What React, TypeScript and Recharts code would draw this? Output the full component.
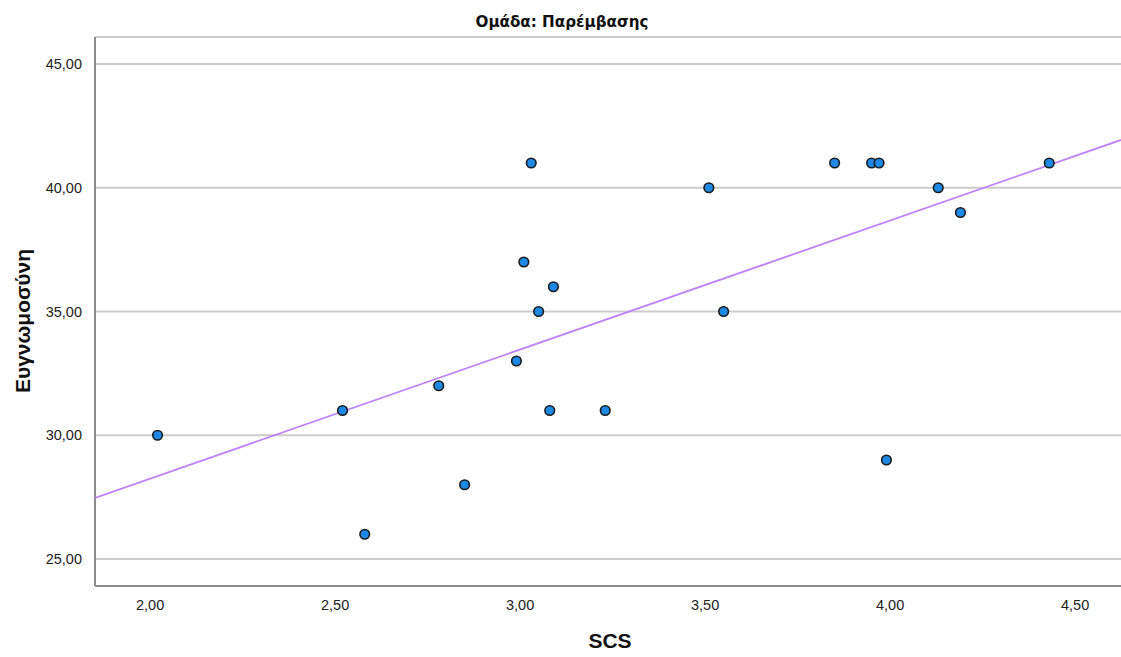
import React from 'react';
import { ScatterChart, Scatter, XAxis, YAxis, CartesianGrid, Label } from 'recharts';

const scsValues = [2.02, 2.52, 2.58, 2.78, 2.85, 2.99, 3.01, 3.03, 3.05, 3.08, 3.09, 3.23, 3.51, 3.55, 3.85, 3.95, 3.97, 3.99, 4.13, 4.19, 4.43];
const gratitudeValues = [30, 31, 26, 32, 28, 33, 37, 41, 35, 31, 36, 31, 40, 35, 41, 41, 41, 29, 40, 39, 41];
const fitX = [1.851, 4.624];
const fitY = [27.47, 41.93];
const xTicks = [2.0, 2.5, 3.0, 3.5, 4.0, 4.5];
const yTicks = [25, 30, 35, 40, 45];

const points = scsValues.map((x, i) => ({ x, y: gratitudeValues[i] }));
const fitLine = fitX.map((x, i) => ({ x, y: fitY[i] }));

const fmt = (v: number) => v.toFixed(2).replace('.', ',');
const FONT = '"Liberation Sans", Arial, sans-serif';

const Dot = (props: any) => {
  const { cx, cy } = props;
  if (cx == null || cy == null) return null;
  return <circle cx={cx} cy={cy} r={4.8} fill="#1E88E5" stroke="#1a1a1a" strokeWidth={1.6} />;
};

export default function App() {
  return (
    <div style={{ position: 'absolute', left: 0, top: 0, width: 1121, height: 657, background: '#fff' }}>
      <ScatterChart width={1121} height={657} margin={{ top: 37, right: 0, bottom: 0, left: 0 }}>
        <text
          x={562}
          y={27}
          textAnchor="middle"
          fontFamily="DejaVu Sans, Verdana, sans-serif"
          fontWeight="bold"
          fontSize={15}
          fill="#111"
          textLength={173}
          lengthAdjust="spacingAndGlyphs"
        >
          Ομάδα: Παρέμβασης
        </text>
        <CartesianGrid vertical={false} stroke="#cccccc" strokeWidth={2} />
        <XAxis
          type="number"
          dataKey="x"
          domain={[1.851, 4.624]}
          ticks={xTicks}
          tickFormatter={fmt}
          allowDataOverflow
          height={71}
          axisLine={{ stroke: '#8c8c8c', strokeWidth: 2 }}
          tickLine={false}
          tick={{ fill: '#222', fontSize: 14.5, fontFamily: FONT }}
          tickMargin={8}
        >
          <Label
            content={() => (
              <text x={610} y={648} textAnchor="middle" fontFamily={FONT} fontWeight="bold" fontSize={21} fill="#111">
                SCS
              </text>
            )}
          />
        </XAxis>
        <YAxis
          type="number"
          dataKey="y"
          domain={[23.91, 46.09]}
          ticks={yTicks}
          tickFormatter={fmt}
          allowDataOverflow
          width={95}
          axisLine={{ stroke: '#8c8c8c', strokeWidth: 2 }}
          tickLine={false}
          tick={{ fill: '#222', fontSize: 14.5, fontFamily: FONT }}
          tickMargin={7}
        >
          <Label
            content={() => (
              <text
                x={30}
                y={321}
                transform="rotate(-90 30 321)"
                textAnchor="middle"
                fontFamily={FONT}
                fontWeight="bold"
                fontSize={21}
                fill="#111"
              >
                Ευγνωμοσύνη
              </text>
            )}
          />
        </YAxis>
        <Scatter
          data={fitLine}
          line={{ stroke: '#BE82FA', strokeWidth: 1.8 }}
          shape={() => null}
          isAnimationActive={false}
        />
        <Scatter data={points} shape={<Dot />} isAnimationActive={false} />
      </ScatterChart>
    </div>
  );
}
